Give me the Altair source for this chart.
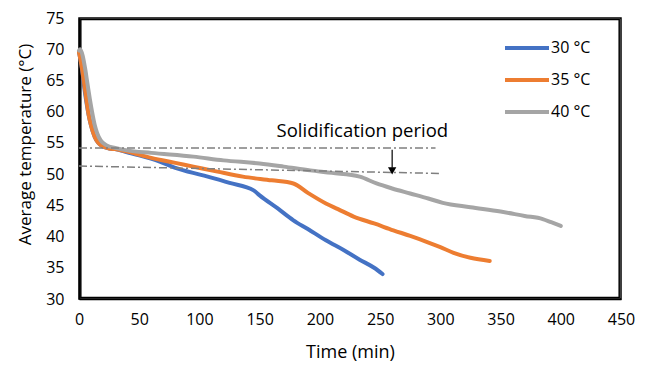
import altair as alt
import pandas as pd

# ---- data ----
t30 = [0, 2, 5, 8, 10, 13, 16, 20, 25, 30, 40, 50, 67, 80, 103, 125, 145, 150, 165, 178, 190, 205, 220, 233, 245, 252]
v30 = [69.5, 67.5, 63, 59.5, 57.8, 56, 55, 54.4, 54.1, 54, 53.5, 53, 52.0, 51, 49.8, 48.6, 47.4, 46.6, 44.5, 42.6, 41.2, 39.4, 37.8, 36.3, 35, 34]

t35 = [0, 2, 5, 8, 10, 13, 16, 20, 25, 30, 40, 60, 80, 95, 115, 136, 160, 178, 190, 205, 215, 228, 245, 261, 275, 288, 300, 311, 325, 341]
v35 = [69.5, 67.5, 63.5, 59.5, 57.8, 56, 55, 54.4, 54.1, 54, 53.6, 52.6, 51.8, 51.2, 50.4, 49.6, 49.0, 48.5, 47, 45.3, 44.4, 43.2, 42.1, 41, 40.1, 39.2, 38.3, 37.4, 36.6, 36.1]

t40 = [0, 1, 3, 5, 7, 9, 11, 13, 15, 18, 23, 30, 40, 60, 95, 120, 150, 170, 192, 210, 233, 247, 260, 275, 290, 302, 325, 350, 370, 385, 392, 400]
v40 = [69.8, 70, 69, 67, 64.5, 62, 59.8, 57.9, 56.6, 55.4, 54.6, 54.2, 53.8, 53.4, 52.8, 52.2, 51.7, 51.2, 50.6, 50.2, 49.6, 48.5, 47.7, 46.9, 46.1, 45.4, 44.7, 44, 43.3, 42.8, 42.3, 41.7]

series_names = ["30 °C", "35 °C", "40 °C"]
series_colors = ["#4472C4", "#ED7D31", "#A5A5A5"]

# dash-dot guide lines (start/end of solidification)
guide_t = [[0, 296], [0, 301]]
guide_v = [[54.2, 54.2], [51.3, 50.1]]

annot_text = "Solidification period"
annot_t, annot_v = 164, 56.9
arrow_t, arrow_top, arrow_bottom, arrow_head = 260, 53.9, 51.0, 50.5

x_domain = [0, 450]
y_domain = [30, 75]
x_ticks = list(range(0, 451, 50))
y_ticks = list(range(30, 76, 5))
# border box drawn just inside the plot edges
frame_t = [1.5, 448.5]
frame_v = [30.25, 74.75]

FONT = "Open Sans"

rows = []
for name, ts, vs in zip(series_names, [t30, t35, t40], [v30, v35, v40]):
    for i, (t, v) in enumerate(zip(ts, vs)):
        rows.append({"series": name, "time": t, "temp": v, "order": i})
df = pd.DataFrame(rows)

grows = []
for gi, (ts, vs) in enumerate(zip(guide_t, guide_v)):
    for t, v in zip(ts, vs):
        grows.append({"gid": gi, "time": t, "temp": v})
gdf = pd.DataFrame(grows)

xscale = alt.Scale(domain=x_domain, nice=False)
yscale = alt.Scale(domain=y_domain, nice=False)

xaxis = alt.Axis(values=x_ticks, title="Time (min)", domain=True, domainColor="#000", domainWidth=1.5,
                 ticks=False, grid=False,
                 labelFlush=False, labelOverlap=False,
                 labelFont=FONT, labelFontSize=16, labelColor="#000", labelPadding=12,
                 titleFont=FONT, titleFontSize=18, titleFontWeight="normal", titleColor="#000",
                 titleBaseline="middle", titleY=53)
yaxis = alt.Axis(values=y_ticks, title="Average temperature (°C)", domain=True, domainColor="#000", domainWidth=1.5,
                 ticks=False, grid=False,
                 labelFlush=False, labelOverlap=False,
                 labelFont=FONT, labelFontSize=16, labelColor="#000", labelPadding=15,
                 titleFont=FONT, titleFontSize=17, titleFontWeight="normal", titleColor="#000",
                 titleAngle=-90, titleAlign="center", titleBaseline="middle", titleX=-54, titleY=126)


def X(field):
    return alt.X(field, type="quantitative", scale=xscale, axis=xaxis)


def Y(field):
    return alt.Y(field, type="quantitative", scale=yscale, axis=yaxis)


box_df = pd.DataFrame({"t0": [frame_t[0]], "t1": [frame_t[1]], "v0": [frame_v[0]], "v1": [frame_v[1]]})
frame_box = alt.Chart(box_df).mark_rect(fill="#ffffff", fillOpacity=0, stroke="#000", strokeWidth=1.5).encode(
    x=X("t0"), x2="t1", y=Y("v0"), y2="v1")

lines = alt.Chart(df).mark_line(strokeWidth=4, strokeCap="round", strokeJoin="round", interpolate="monotone").encode(
    x=X("time"),
    y=Y("temp"),
    color=alt.Color("series:N", scale=alt.Scale(domain=series_names, range=series_colors),
                    legend=alt.Legend(orient="none", legendX=424, legendY=6, title=None,
                                      symbolType="stroke", symbolStrokeWidth=4, symbolSize=1936,
                                      labelFont=FONT, labelFontSize=16, labelColor="#000",
                                      labelOffset=0, rowPadding=-16)),
    order="order:Q",
)

guides = alt.Chart(gdf).mark_line(color="#7f7f7f", strokeWidth=1.5, strokeDash=[8, 3, 2, 3]).encode(
    x=X("time"), y=Y("temp"), detail="gid:N",
)

adf = pd.DataFrame({"time": [annot_t], "temp": [annot_v], "label": [annot_text]})
annot = alt.Chart(adf).mark_text(align="left", baseline="middle", font=FONT, fontSize=18.5, color="#000").encode(
    x=X("time"), y=Y("temp"), text="label:N")

ardf = pd.DataFrame({"time": [arrow_t], "top": [arrow_top], "bottom": [arrow_bottom], "head": [arrow_head]})
arrow_line = alt.Chart(ardf).mark_rule(color="#000", strokeWidth=1.2).encode(
    x=X("time"), y=Y("top"), y2="bottom")
arrow_head_m = alt.Chart(ardf).mark_point(shape="triangle-down", filled=True, color="#000", size=70, opacity=1).encode(
    x=X("time"), y=Y("head"))

chart = alt.layer(frame_box, lines, guides, annot, arrow_line, arrow_head_m).properties(
    width=542, height=281,
    padding={"left": 79, "top": 18, "right": 25, "bottom": 66},
    autosize="none",
).configure(background="white").configure_view(stroke="#000", strokeWidth=1.5)

chart.save("out.html", embed_options={"renderer": "svg", "actions": False})
